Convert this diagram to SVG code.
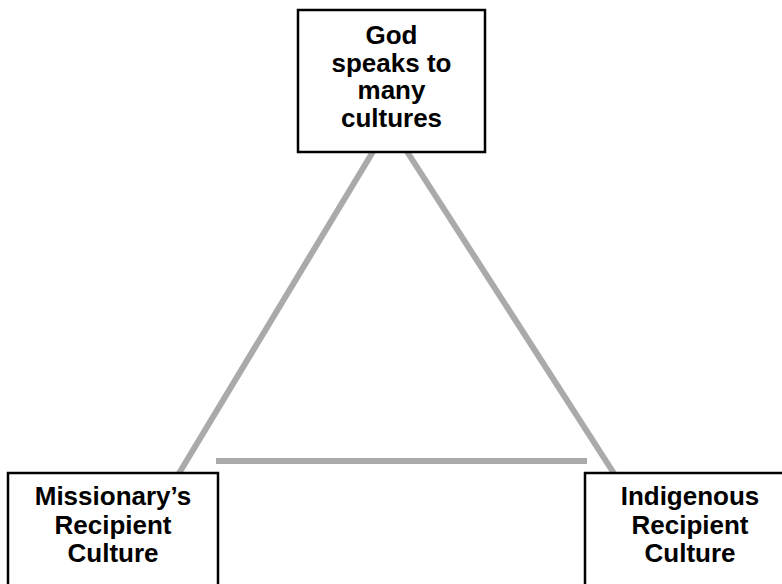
<svg xmlns="http://www.w3.org/2000/svg" width="782" height="584" viewBox="0 0 782 584">
<style>
.box{fill:#fff;stroke:#000;stroke-width:2.5}
.lbl{font-family:"Liberation Sans",Arial,sans-serif;font-weight:bold;font-size:26px;text-anchor:middle;fill:#000}
.edge{stroke:#aaaaaa;stroke-width:6;fill:none}
</style>
<rect width="782" height="584" fill="#fff"/>
<g id="connectors">
<line class="edge" x1="374" y1="150" x2="178" y2="475"/>
<line class="edge" x1="406" y1="150" x2="615" y2="475"/>
<line class="edge" x1="216" y1="461" x2="587" y2="461"/>
</g>
<g id="god">
<rect class="box" x="298" y="10" width="187" height="142"/>
<text class="lbl" x="391.5" y="44">God</text>
<text class="lbl" x="391.5" y="71.5">speaks to</text>
<text class="lbl" x="391.5" y="99">many</text>
<text class="lbl" x="391.5" y="126.5">cultures</text>
</g>
<g id="missionary">
<rect class="box" x="8" y="473" width="210" height="140"/>
<text class="lbl" x="113" y="505">Missionary’s</text>
<text class="lbl" x="113" y="533.5">Recipient</text>
<text class="lbl" x="113" y="562">Culture</text>
</g>
<g id="indigenous">
<rect class="box" x="585" y="473" width="210" height="140"/>
<text class="lbl" x="690" y="505">Indigenous</text>
<text class="lbl" x="690" y="533.5">Recipient</text>
<text class="lbl" x="690" y="562">Culture</text>
</g>
</svg>
